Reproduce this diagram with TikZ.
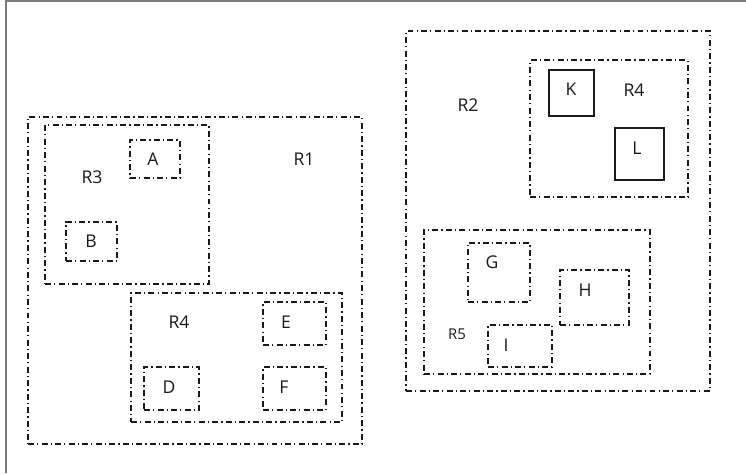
\documentclass[tikz,border=0pt]{standalone}
\usepackage{fontspec}
\setmainfont{Open Sans}
\usepackage{xcolor}
\definecolor{frameGray}{HTML}{7A7A7A}
\definecolor{inkDark} {HTML}{1A1A1A}
\usetikzlibrary{fit}

\begin{document}
\begin{tikzpicture}[
    x=0.02cm, y=-0.02cm,
    every node/.style={font=\fontsize{10}{12}\selectfont, text=inkDark},
    region/.style={draw=inkDark, line width=0.7pt,
                   dash pattern=on 3.4pt off 1.8pt on 0.7pt off 1.8pt,
                   inner sep=0pt, fit={#1}},
    solidbox/.style={draw=inkDark, line width=0.6pt, inner sep=0pt, fit={#1}},
    lbl/.style={inner sep=0pt},
    small/.style={font=\fontsize{8.5}{10}\selectfont}
]
\useasboundingbox (0,0) rectangle (746,473);
% frame
\draw[frameGray, line width=1.2pt] (6,473) -- (6,1) -- (746,1);
% left group
\node[region={(28,117) (362,444)}] (R1) {};
\node[region={(45,125) (209,284)}] (R3) {};
\node[region={(130,140) (180,178)}] (A) {};
\node[region={(66,222) (117,261)}] (B) {};
\node[region={(131,293) (342,422)}] (R4a) {};
\node[region={(263,302) (326,345)}] (E) {};
\node[region={(144,367) (199,410)}] (D) {};
\node[region={(263,367) (326,410)}] (F) {};
% right group
\node[region={(406,31) (710,391)}] (R2) {};
\node[region={(530,60) (688,197)}] (R4b) {};
\node[solidbox={(549,70) (594,116)}] (K) {};
\node[solidbox={(615,128) (664,180)}] (L) {};
\node[region={(424,230) (650,374)}] (R5) {};
\node[region={(468,243) (530,302)}] (G) {};
\node[region={(560,270) (629,325)}] (H) {};
\node[region={(488,325) (552,367)}] (I) {};
% labels
\node[lbl] (lR1) at (304,159) {R1};
\node[lbl] (lR3) at (92,177) {R3};
\node[lbl] (lA) at (153,159) {A};
\node[lbl] (lB) at (91,241) {B};
\node[lbl] (lR4a) at (179,322) {R4};
\node[lbl] (lE) at (286,322) {E};
\node[lbl] (lD) at (169,387) {D};
\node[lbl] (lF) at (284,387) {F};
\node[lbl] (lR2) at (468,105) {R2};
\node[lbl] (lR4b) at (634,90) {R4};
\node[lbl] (lK) at (571,89) {K};
\node[lbl] (lL) at (637,148) {L};
\node[lbl] (lG) at (492,262) {G};
\node[lbl] (lH) at (585,290) {H};
\node[lbl] (lI) at (506,345) {I};
\node[lbl, small] (lR5) at (457,334) {R5};
\end{tikzpicture}
\end{document}
